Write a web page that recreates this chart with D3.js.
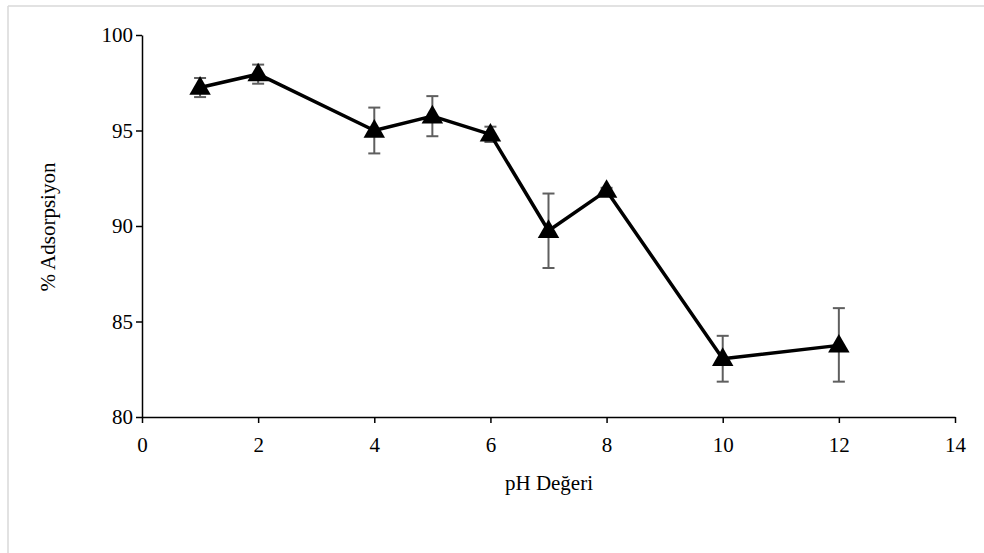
<!DOCTYPE html>
<html>
<head>
<meta charset="utf-8">
<script src="https://cdn.jsdelivr.net/npm/d3@7"></script>
<style>
  body { margin: 0; background: #fff; }
  svg text { font-family: "Times New Roman", "Liberation Serif", Times, serif !important; }
</style>
</head>
<body>
<script>
// pH values and % adsorption with error (+/-)
var phValues = [1, 2, 4, 5, 6, 7, 8, 10, 12];
var adsorption = [97.25, 97.95, 95.0, 95.75, 94.8, 89.75, 91.85, 83.05, 83.75];
var errHigh = [97.75, 98.45, 96.2, 96.8, 95.2, 91.7, 92.0, 84.25, 85.7];
var errLow = [96.75, 97.45, 93.8, 94.7, 94.4, 87.8, 91.7, 81.85, 81.85];
var xTicks = [0, 2, 4, 6, 8, 10, 12, 14];
var yTicks = [80, 85, 90, 95, 100];

var W = 984, H = 553;
var svg = d3.select("body").append("svg").attr("width", W).attr("height", H);

// light frame (top + left visible)
svg.append("line").attr("x1", 8).attr("y1", 6).attr("x2", W).attr("y2", 6)
  .attr("stroke", "#d9d9d9").attr("stroke-width", 1.5);
svg.append("line").attr("x1", 8).attr("y1", 6).attr("x2", 8).attr("y2", H)
  .attr("stroke", "#d9d9d9").attr("stroke-width", 1.5);

var x = d3.scaleLinear().domain([0, 14]).range([142, 955]);
var y = d3.scaleLinear().domain([80, 100]).range([417, 35]);

var xAxis = svg.append("g").attr("transform", "translate(0,417)")
  .call(d3.axisBottom(x).tickValues(xTicks).tickSize(6).tickSizeOuter(0).tickPadding(14));
var yAxis = svg.append("g").attr("transform", "translate(142,0)")
  .call(d3.axisLeft(y).tickValues(yTicks).tickSize(6).tickSizeOuter(0).tickPadding(3));

[xAxis, yAxis].forEach(function (g) {
  g.attr("font-size", 21);
  g.select(".domain").attr("stroke", "#000").attr("stroke-width", 1.5);
  g.selectAll(".tick line").attr("stroke", "#000").attr("stroke-width", 1.5);
  g.selectAll(".tick text").attr("fill", "#000");
});

var pts = phValues.map(function (p, i) {
  return { ph: p, v: adsorption[i], hi: errHigh[i], lo: errLow[i] };
});

// error bars
var eb = svg.append("g").attr("stroke", "#5f5f5f").attr("stroke-width", 2);
pts.forEach(function (d) {
  eb.append("line").attr("x1", x(d.ph)).attr("x2", x(d.ph))
    .attr("y1", y(d.hi)).attr("y2", y(d.lo));
  eb.append("line").attr("x1", x(d.ph) - 6).attr("x2", x(d.ph) + 6)
    .attr("y1", y(d.hi)).attr("y2", y(d.hi));
  eb.append("line").attr("x1", x(d.ph) - 6).attr("x2", x(d.ph) + 6)
    .attr("y1", y(d.lo)).attr("y2", y(d.lo));
});

// line
var line = d3.line().x(function (d) { return x(d.ph); }).y(function (d) { return y(d.v); });
svg.append("path").datum(pts).attr("d", line)
  .attr("fill", "none").attr("stroke", "#000").attr("stroke-width", 3.5)
  .attr("stroke-linejoin", "round");

// triangle markers
var tri = d3.symbol().type(d3.symbolTriangle).size(200);
svg.selectAll(".mk").data(pts).enter().append("path")
  .attr("class", "mk")
  .attr("d", tri)
  .attr("transform", function (d) { return "translate(" + x(d.ph) + "," + (y(d.v) + 1) + ")"; })
  .attr("fill", "#000");

// axis titles
svg.append("text").attr("x", 549).attr("y", 490).attr("text-anchor", "middle")
  .attr("font-size", 21).text("pH Değeri");
svg.append("text").attr("transform", "translate(55,227) rotate(-90)")
  .attr("text-anchor", "middle").attr("font-size", 21).text("% Adsorpsiyon");
</script>
</body>
</html>
